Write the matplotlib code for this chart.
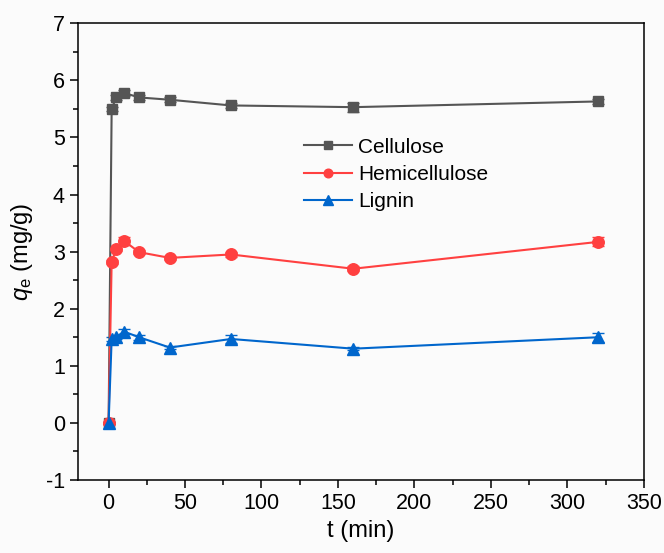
import matplotlib
matplotlib.use("Agg")
import matplotlib.pyplot as plt
from matplotlib.ticker import MultipleLocator
from matplotlib.lines import Line2D

plt.rcParams['font.family'] = ['Liberation Sans', 'DejaVu Sans']
plt.rcParams['mathtext.fontset'] = 'custom'
plt.rcParams['mathtext.rm'] = 'Liberation Sans'
plt.rcParams['mathtext.it'] = 'Liberation Sans:italic'
plt.rcParams['axes.unicode_minus'] = False

t = [0, 2, 5, 10, 20, 40, 80, 160, 320]
cellulose = [0, 5.50, 5.70, 5.78, 5.70, 5.66, 5.56, 5.53, 5.63]
cellulose_err = [0.02, 0.04, 0.04, 0.05, 0.04, 0.04, 0.04, 0.08, 0.05]
hemi = [0, 2.82, 3.05, 3.19, 2.99, 2.89, 2.95, 2.70, 3.17]
hemi_err = [0.02, 0.04, 0.04, 0.07, 0.04, 0.04, 0.04, 0.04, 0.08]
lignin = [0, 1.47, 1.50, 1.60, 1.50, 1.32, 1.47, 1.30, 1.50]
lignin_err = [0.02, 0.03, 0.03, 0.05, 0.04, 0.03, 0.07, 0.03, 0.08]

labels = ['Cellulose', 'Hemicellulose', 'Lignin']
colors = ['#555555', '#ff4040', '#0066cc']
markers = ['s', 'o', '^']
sizes = [7.0, 8.3, 8.8]

fig = plt.figure(figsize=(6.64, 5.53), dpi=100)
fig.patch.set_facecolor('#fbfbfb')
ax = fig.add_axes([0.1175, 0.132, 0.852, 0.826])
ax.set_facecolor('#fbfbfb')

for y, e, c, m, s, lab in zip([cellulose, hemi, lignin],
                              [cellulose_err, hemi_err, lignin_err],
                              colors, markers, sizes, labels):
    ax.errorbar(t, y, yerr=e, color=c, marker=m, ms=s, lw=1.5,
                capsize=4, elinewidth=1, label=lab)

ax.set_xlim(-20, 350)
ax.set_ylim(-1, 7)
ax.xaxis.set_major_locator(MultipleLocator(50))
ax.xaxis.set_minor_locator(MultipleLocator(25))
ax.yaxis.set_major_locator(MultipleLocator(1))
ax.yaxis.set_minor_locator(MultipleLocator(0.5))
ax.tick_params(which='major', direction='out', length=6, width=1.1, labelsize=15.5)
ax.tick_params(which='minor', direction='out', length=3.5, width=1.1)
for sp in ax.spines.values():
    sp.set_linewidth(1.1)

ax.set_xlabel('t (min)', fontsize=17)
ax.set_ylabel(r'$q_\mathrm{e}$ (mg/g)', fontsize=17, labelpad=8)

handles = [Line2D([], [], color=c, marker=m, ms=s * 0.75, lw=1.5)
           for c, m, s in zip(colors, markers, sizes)]
ax.legend(handles, labels, loc='upper left', bbox_to_anchor=(0.385, 0.768),
          borderaxespad=0, frameon=False, fontsize=15, handlelength=2.3,
          handletextpad=0.3, labelspacing=0.4)

fig.savefig('out.png', dpi=100, facecolor=fig.get_facecolor())
